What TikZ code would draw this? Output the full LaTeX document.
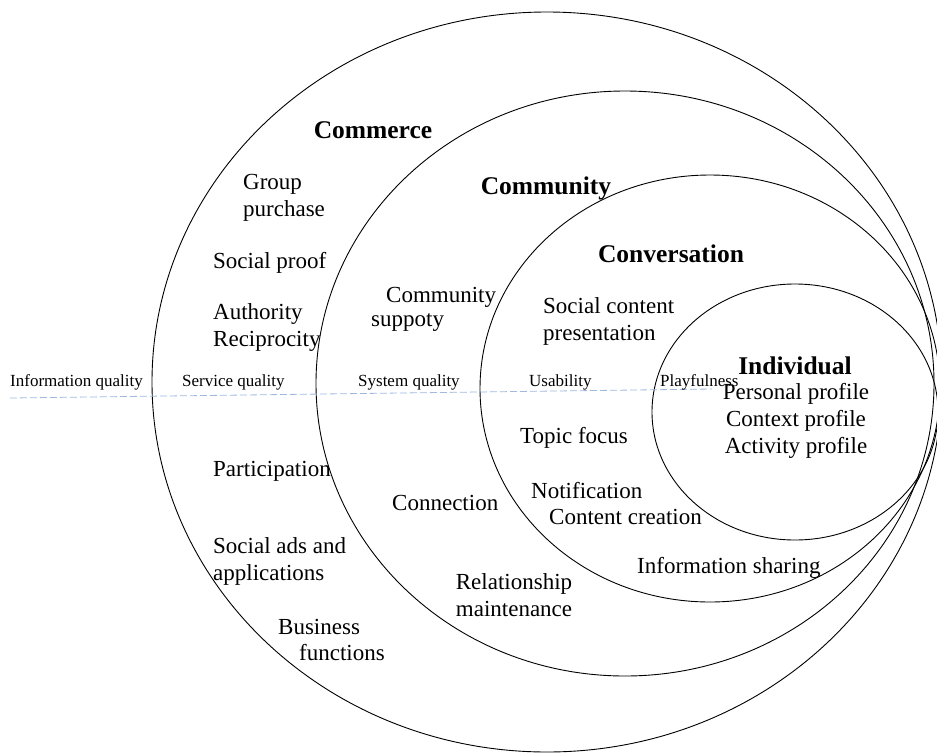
\documentclass[tikz,border=0pt]{standalone}
\usepackage{fontspec}
\setmainfont{Liberation Serif}
\begin{document}
\begin{tikzpicture}[x=1pt,y=-1pt,
  lbl/.style={font=\fontsize{23}{27}\selectfont, inner sep=0pt},
  ttl/.style={font=\fontsize{25.5}{30}\selectfont\bfseries, inner sep=0pt},
  qual/.style={font=\fontsize{17}{20}\selectfont, inner sep=0pt, anchor=west},
  ring/.style={draw=black, line width=0.9pt},
  axis/.style={draw={rgb,255:red,160;green,185;blue,225}, line width=0.8pt, dash pattern=on 7pt off 3pt}]
\useasboundingbox (0,0) rectangle (937,753);
\clip (0,0) rectangle (937,753);

% nested rings
\draw[ring] (547,382) ellipse [x radius=395pt, y radius=370pt];
\draw[ring] (625,383.5) ellipse [x radius=309pt, y radius=292.5pt];
\draw[ring] (710,388.5) ellipse [x radius=230pt, y radius=213.5pt];
\draw[ring] (795,412) ellipse [x radius=143pt, y radius=128pt];

% quality axis
\coordinate (axL) at (10,398);
\coordinate (axR) at (712,389);
\draw[axis] (axL) -- (axR);
\node[qual] (q1) at (10,382) {Information quality};
\node[qual] (q2) at (182,382) {Service quality};
\node[qual] (q3) at (358,382) {System quality};
\node[qual] (q4) at (529,382) {Usability};
\node[qual] (q5) at (660,382) {Playfulness};

% ring titles
\node[ttl] (commerce) at (373,130) {Commerce};
\node[ttl] (community) at (546,188) {Community};
\node[ttl] (conversation) at (671,254) {Conversation};
\node[ttl] (individual) at (795,366) {Individual};

% individual
\node[lbl, align=center] (indiv) at (796,421) {Personal profile\\Context profile\\Activity profile};

% commerce
\node[lbl, anchor=west, align=left] (group) at (243,198) {Group\\purchase};
\node[lbl, anchor=west] (proof) at (213,263) {Social proof};
\node[lbl, anchor=west, align=left] (auth) at (213,327) {Authority\\Reciprocity};
\node[lbl, anchor=west] (part) at (213,471) {Participation};
\node[lbl, anchor=west, align=left] (ads) at (213,561) {Social ads and\\applications};
\node[lbl, anchor=west] (bus1) at (278,627) {Business};
\node[lbl, anchor=west] (bus2) at (299,653) {functions};

% community
\node[lbl, anchor=west] (cs1) at (386,297) {Community};
\node[lbl, anchor=west] (cs2) at (371,323) {suppoty};
\node[lbl, anchor=west] (conn) at (392,503) {Connection};
\node[lbl, align=center] (rel) at (514,595) {Relationship\\maintenance};

% conversation
\node[lbl, anchor=west, align=left] (scp) at (543,321) {Social content\\presentation};
\node[lbl, anchor=west] (topic) at (520,438) {Topic focus};
\node[lbl, anchor=west] (notif) at (531,491) {Notification};
\node[lbl, anchor=west] (create) at (549,517) {Content creation};
\node[lbl, anchor=west] (share) at (637,568) {Information sharing};
\end{tikzpicture}
\end{document}
